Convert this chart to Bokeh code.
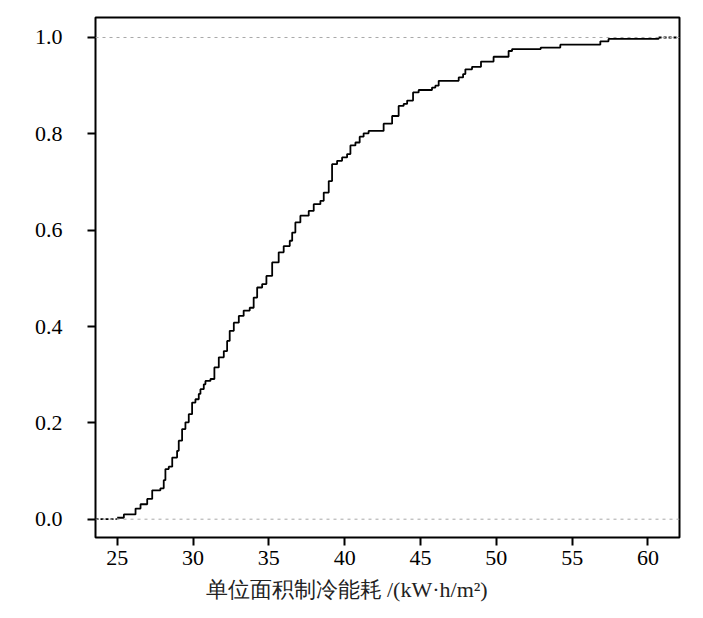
from bokeh.plotting import figure
from bokeh.models import Range1d, FixedTicker, Span, Title
from bokeh.embed import file_html
from bokeh.resources import INLINE

# ECDF step knots (jump positions) and cumulative proportion after each jump
knot_x = [25.00, 25.44, 26.21, 26.54, 26.98, 27.31, 27.85, 28.07, 28.18, 28.40,
          28.63, 28.95, 29.06, 29.28, 29.50, 29.72, 29.94, 30.16, 30.38, 30.49,
          30.71, 30.82, 31.15, 31.41, 31.70, 32.03, 32.25, 32.42, 32.69, 33.02,
          33.34, 33.74, 34.00, 34.23, 34.56, 34.84, 35.22, 35.65, 35.98, 36.38,
          36.54, 36.75, 37.08, 37.63, 37.96, 38.40, 38.62, 38.95, 39.17, 39.50,
          39.83, 40.16, 40.38, 40.71, 40.99, 41.25, 41.58, 42.57, 43.13, 43.56,
          43.89, 44.12, 44.51, 44.88, 45.76, 45.98, 46.20, 47.52, 47.81, 47.96,
          48.40, 48.99, 49.82, 50.81, 51.04, 52.93, 54.22, 56.86, 57.40, 60.70]
cum_prob = [0.003, 0.010, 0.022, 0.031, 0.042, 0.060, 0.064, 0.081, 0.104, 0.109,
            0.128, 0.142, 0.163, 0.187, 0.201, 0.218, 0.242, 0.249, 0.260, 0.270,
            0.280, 0.287, 0.291, 0.315, 0.336, 0.349, 0.370, 0.391, 0.408, 0.422,
            0.433, 0.439, 0.460, 0.481, 0.488, 0.505, 0.533, 0.554, 0.567, 0.578,
            0.595, 0.616, 0.630, 0.640, 0.654, 0.661, 0.678, 0.702, 0.737, 0.744,
            0.751, 0.758, 0.776, 0.782, 0.794, 0.801, 0.806, 0.821, 0.837, 0.858,
            0.862, 0.869, 0.886, 0.891, 0.896, 0.900, 0.910, 0.917, 0.924, 0.934,
            0.939, 0.950, 0.960, 0.972, 0.976, 0.979, 0.985, 0.992, 0.997, 1.000]

x_ticks = [25, 30, 35, 40, 45, 50, 55, 60]
x_tick_labels = ["25", "30", "35", "40", "45", "50", "55", "60"]
y_ticks = [0.0, 0.2, 0.4, 0.6, 0.8, 1.0]
y_tick_labels = ["0.0", "0.2", "0.4", "0.6", "0.8", "1.0"]
ref_levels = [0.0, 1.0]
x_title = "单位面积制冷能耗 /(kW·h/m²)"

x_lo, x_hi = 23.57, 62.08
y_lo, y_hi = -0.038, 1.0415

FONT = "Liberation Serif"

p = figure(width=695, height=610, output_backend="svg", toolbar_location=None,
           x_range=Range1d(x_lo, x_hi), y_range=Range1d(y_lo, y_hi),
           min_border_left=95, min_border_right=16, min_border_top=17,
           min_border_bottom=73)
p.grid.visible = False
p.background_fill_color = "white"
p.border_fill_color = "white"
p.outline_line_color = "black"
p.outline_line_width = 2
p.outline_line_alpha = 1.0

# reference lines at 0 and 1
for lv in ref_levels:
    p.add_layout(Span(location=lv, dimension="width", line_color="#a8a8a8",
                      line_width=1, line_dash="3 4"))

# padded ends of the ECDF
p.line([x_lo, knot_x[0]], [0.0, 0.0], line_color="black", line_width=1.8, line_dash="3 2")
p.line([knot_x[-1], x_hi], [cum_prob[-1], cum_prob[-1]], line_color="black",
       line_width=1.8, line_dash="3 2")
# ECDF staircase
p.step(knot_x, cum_prob, mode="after", line_color="black", line_width=1.8)

for ax, ticks, labels in ((p.xaxis[0], x_ticks, x_tick_labels),
                          (p.yaxis[0], y_ticks, y_tick_labels)):
    ax.ticker = FixedTicker(ticks=ticks)
    ax.major_label_overrides = {t: l for t, l in zip(ticks, labels)}
    ax.axis_line_color = None
    ax.major_tick_line_color = "black"
    ax.major_tick_line_width = 2
    ax.major_tick_out = 8
    ax.major_tick_in = 0
    ax.minor_tick_line_color = None
    ax.major_label_text_font = FONT
    ax.major_label_text_font_size = "22px"
    ax.major_label_text_color = "black"

p.yaxis[0].major_label_standoff = 25
p.xaxis[0].major_label_standoff = 5

t = Title(text=x_title, align="left", offset=110, text_font=FONT,
          text_font_size="22px", text_font_style="normal", text_color="#222222",
          standoff=15)
p.add_layout(t, "below")

open("out.html", "w").write(file_html(p, INLINE))
